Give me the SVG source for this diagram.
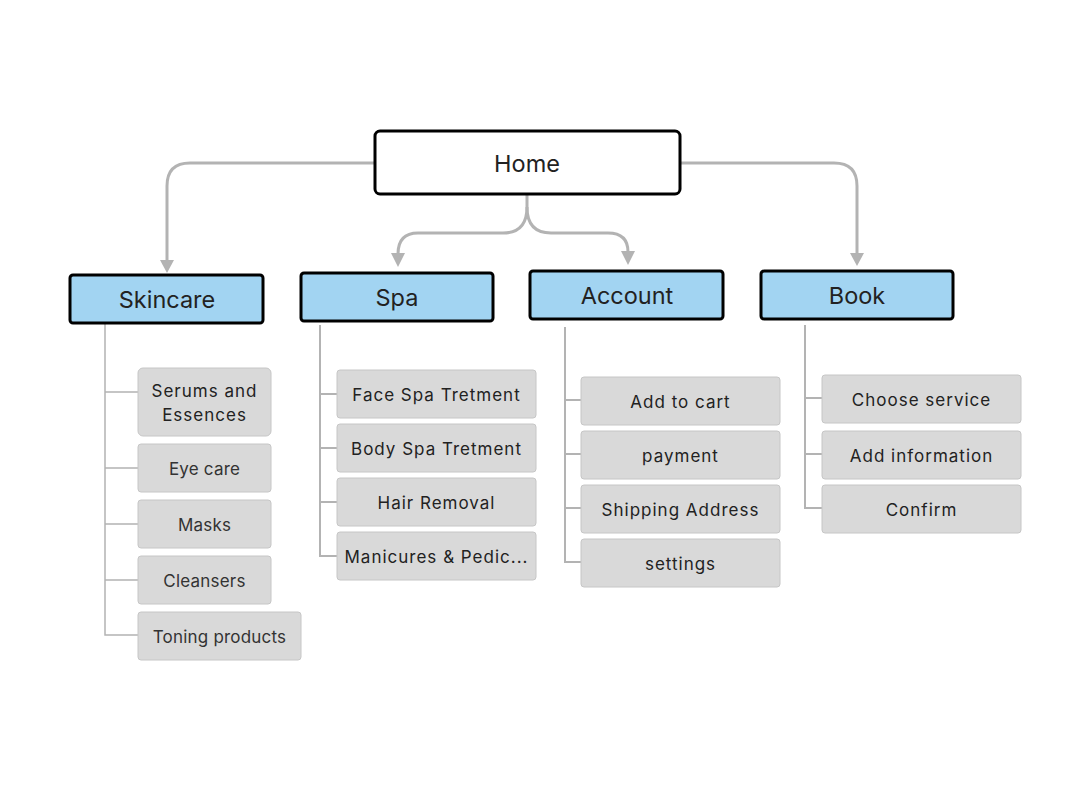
<svg xmlns="http://www.w3.org/2000/svg" width="1092" height="791" viewBox="0 0 1092 791">
<style>
.home{fill:#fff;stroke:#000;stroke-width:3}
.hdr{fill:#a2d4f2;stroke:#000;stroke-width:3}
.item{fill:#d9d9d9;stroke:#c6c6c6;stroke-width:1}
.t1{font-family:Inter,"Liberation Sans",sans-serif;font-size:23.5px;fill:#222;text-anchor:middle}
.t2{font-family:Inter,"Liberation Sans",sans-serif;font-size:17px;fill:#222;text-anchor:middle;letter-spacing:1px}
.t3{font-family:Inter,"Liberation Sans",sans-serif;font-size:17px;fill:#333;text-anchor:middle;letter-spacing:0.2px}
.arr{fill:none;stroke:#b3b3b3;stroke-width:3}
.ah{fill:#b3b3b3}
.tree{fill:none;stroke:#b3b3b3;stroke-width:2}
.tree1{fill:none;stroke:#b3b3b3;stroke-width:1.5}
</style>
<rect width="1092" height="791" fill="#fff"/>
<g id="connectors">
<path class="arr" d="M375 163 H190 Q167 163 167 186 V261"/>
<path class="ah" d="M160 260 L174 260 L167 273 Z"/>
<path class="arr" d="M680 163 H834 Q857 163 857 186 V255"/>
<path class="ah" d="M850 253 L864 253 L857 266 Z"/>
<path class="arr" d="M527 195 V207 Q527 233 503 233 H418 Q398 233 398 254"/>
<path class="ah" d="M391 253 L405 253 L398 267 Z"/>
<path class="arr" d="M527 207 Q527 233 551 233 H608 Q628 233 628 252"/>
<path class="ah" d="M621 251 L635 251 L628 265 Z"/>
<path class="tree1" d="M105 324 V635 H138 M105 392 H138 M105 468 H138 M105 524 H138 M105 580 H138"/>
<path class="tree" d="M320 325 V556 H337 M320 394 H337 M320 448 H337 M320 502 H337"/>
<path class="tree" d="M565 327 V562 H581 M565 400 H581 M565 454 H581 M565 508 H581"/>
<path class="tree" d="M805 325 V508 H822 M805 398 H822 M805 454 H822"/>
</g>
<g id="home"><rect class="home" x="375" y="131" width="305" height="63" rx="5"/><text class="t1" x="527" y="172">Home</text></g>
<g id="skincare"><rect class="hdr" x="70" y="275" width="193" height="48" rx="3"/><text class="t1" x="167" y="308">Skincare</text></g>
<g id="spa"><rect class="hdr" x="301" y="273" width="192" height="48" rx="3"/><text class="t1" x="397" y="306">Spa</text></g>
<g id="account"><rect class="hdr" x="530" y="271" width="193" height="48" rx="3"/><text class="t1" x="627" y="304">Account</text></g>
<g id="book"><rect class="hdr" x="761" y="271" width="192" height="48" rx="3"/><text class="t1" x="857" y="304">Book</text></g>
<g id="serums"><rect class="item" x="138" y="368" width="133" height="68" rx="5"/><text class="t2" x="204.5" y="397">Serums and</text><text class="t2" x="204.5" y="421">Essences</text></g>
<g id="eyecare"><rect class="item" x="138" y="444" width="133" height="48" rx="3"/><text class="t3" x="204.5" y="475">Eye care</text></g>
<g id="masks"><rect class="item" x="138" y="500" width="133" height="48" rx="3"/><text class="t3" x="204.5" y="531">Masks</text></g>
<g id="cleansers"><rect class="item" x="138" y="556" width="133" height="48" rx="3"/><text class="t3" x="204.5" y="587">Cleansers</text></g>
<g id="toning"><rect class="item" x="138" y="612" width="163" height="48" rx="3"/><text class="t3" x="219.5" y="643">Toning products</text></g>
<g id="face"><rect class="item" x="337" y="370" width="199" height="48" rx="3"/><text class="t2" x="436.5" y="401">Face Spa Tretment</text></g>
<g id="body"><rect class="item" x="337" y="424" width="199" height="48" rx="3"/><text class="t2" x="436.5" y="455">Body Spa Tretment</text></g>
<g id="hair"><rect class="item" x="337" y="478" width="199" height="48" rx="3"/><text class="t2" x="436.5" y="509">Hair Removal</text></g>
<g id="mani"><rect class="item" x="337" y="532" width="199" height="48" rx="3"/><text class="t2" x="436.5" y="563">Manicures &amp; Pedic...</text></g>
<g id="cart"><rect class="item" x="581" y="377" width="199" height="48" rx="3"/><text class="t2" x="680.5" y="408">Add to cart</text></g>
<g id="payment"><rect class="item" x="581" y="431" width="199" height="48" rx="3"/><text class="t2" x="680.5" y="462">payment</text></g>
<g id="shipping"><rect class="item" x="581" y="485" width="199" height="48" rx="3"/><text class="t2" x="680.5" y="516">Shipping Address</text></g>
<g id="settings"><rect class="item" x="581" y="539" width="199" height="48" rx="3"/><text class="t2" x="680.5" y="570">settings</text></g>
<g id="choose"><rect class="item" x="822" y="375" width="199" height="48" rx="3"/><text class="t2" x="921.5" y="406">Choose service</text></g>
<g id="addinfo"><rect class="item" x="822" y="431" width="199" height="48" rx="3"/><text class="t2" x="921.5" y="462">Add information</text></g>
<g id="confirm"><rect class="item" x="822" y="485" width="199" height="48" rx="3"/><text class="t2" x="921.5" y="516">Confirm</text></g>
</svg>
